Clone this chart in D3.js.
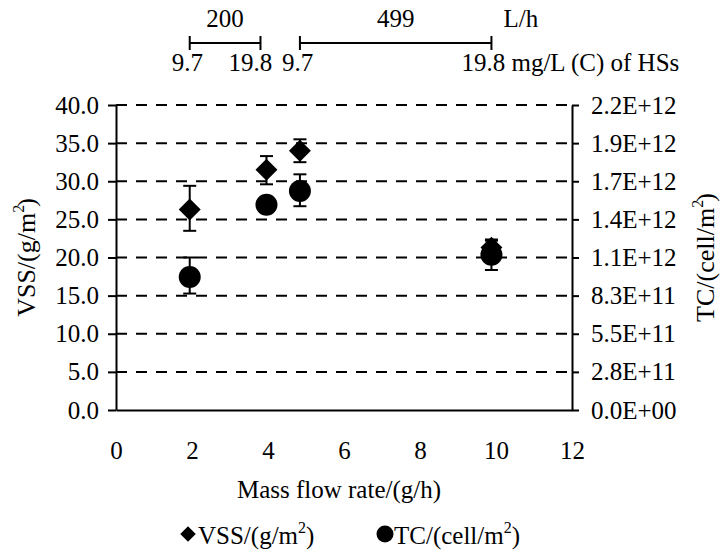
<!DOCTYPE html>
<html>
<head>
<meta charset="utf-8">
<script src="https://cdn.jsdelivr.net/npm/d3@7"></script>
<style>
  body { margin: 0; background: #fff; }
  svg text { font-family: "Liberation Serif", "Times New Roman", serif; fill: #000; }
</style>
</head>
<body>
<div id="chart"></div>
<script>
// Mass flow rate (g/h) of each run
const massFlow = [1.94, 3.96, 4.84, 9.88];

// VSS (g/m2) with error range
const vss = [26.3, 31.5, 34.0, 21.3];
const vssLow = [23.5, 29.6, 32.5, 20.5];
const vssHigh = [29.4, 33.3, 35.5, 22.2];

// TC (cell/m2) with error range
const tc = [9.6e11, 1.48e12, 1.58e12, 1.12e12];
const tcLow = [8.4e11, 1.46e12, 1.47e12, 1.01e12];
const tcHigh = [1.10e12, 1.50e12, 1.70e12, 1.23e12];

// axis ticks
const xTicks = [0, 2, 4, 6, 8, 10, 12];
const vssTicks = [0, 5, 10, 15, 20, 25, 30, 35, 40];
const tcTickLabels = ["0.0E+00", "2.8E+11", "5.5E+11", "8.3E+11", "1.1E+12",
                      "1.4E+12", "1.7E+12", "1.9E+12", "2.2E+12"];
const tcMax = 2.2e12;

// top annotation: flow rate groups and HS concentrations
const flowRates = ["200", "499"];
const concLabels = ["9.7", "19.8"];

const width = 720, height = 552;
const fontSize = 25;

const x = d3.scaleLinear().domain([0, 12]).range([116, 572]);
const y = d3.scaleLinear().domain([0, 40]).range([410, 105]);
const y2 = d3.scaleLinear().domain([0, tcMax]).range([410, 105]);

const svg = d3.select("#chart").append("svg")
  .attr("width", width)
  .attr("height", height)
  .style("font-size", fontSize + "px");

// dashed gridlines
svg.append("g")
  .selectAll("line")
  .data(vssTicks.slice(1))
  .join("line")
  .attr("x1", x(0)).attr("x2", x(12))
  .attr("y1", d => y(d)).attr("y2", d => y(d))
  .attr("stroke", "#000")
  .attr("stroke-width", 2)
  .attr("stroke-dasharray", "11,9");

// left axis
const leftAxis = svg.append("g")
  .attr("transform", `translate(${x(0)},0)`)
  .call(d3.axisLeft(y).tickValues(vssTicks).tickFormat(d3.format(".1f"))
    .tickSize(8).tickSizeOuter(0).tickPadding(9));

// right axis
const tcTicks = tcTickLabels.map((_, i) => i * tcMax / (tcTickLabels.length - 1));
const rightAxis = svg.append("g")
  .attr("transform", `translate(${x(12)},0)`)
  .call(d3.axisRight(y2).tickValues(tcTicks).tickFormat((d, i) => tcTickLabels[i])
    .tickSize(7).tickSizeOuter(0).tickPadding(12));

// bottom axis (no tick marks)
const bottomAxis = svg.append("g")
  .attr("transform", `translate(0,${y(0)})`)
  .call(d3.axisBottom(x).tickValues(xTicks).tickFormat(d3.format("d"))
    .tickSize(0).tickSizeOuter(0).tickPadding(31));

[leftAxis, rightAxis, bottomAxis].forEach(g => {
  g.selectAll("path, line").attr("stroke", "#000").attr("stroke-width", 2);
  g.selectAll("text").style("font-size", fontSize + "px").attr("fill", "#000")
    .style("font-family", '"Liberation Serif", "Times New Roman", serif');
  g.attr("font-size", null).attr("font-family", null);
});

// text with a superscript 2
function supText(sel, before, after, shift) {
  sel.append("tspan").text(before);
  sel.append("tspan").text("2").attr("dy", -11).style("font-size", "16px");
  sel.append("tspan").text(after).attr("dy", 11).attr("dx", shift || 0);
}

// axis titles
svg.append("text")
  .attr("text-anchor", "middle")
  .attr("transform", `translate(35,${(y(0) + y(40)) / 2}) rotate(-90)`)
  .style("font-size", "26px")
  .call(supText, "VSS/(g/m", ")", -2);

svg.append("text")
  .attr("text-anchor", "middle")
  .attr("transform", `translate(714,${(y(0) + y(40)) / 2}) rotate(-90)`)
  .style("font-size", "26px")
  .call(supText, "TC/(cell/m", ")", -2);

svg.append("text")
  .attr("x", 339).attr("y", 498)
  .attr("text-anchor", "middle")
  .text("Mass flow rate/(g/h)");

// error bars
const cap = 6.5;
function errorBars(cls, lo, hi, scale) {
  const g = svg.append("g").attr("class", cls)
    .attr("stroke", "#000").attr("stroke-width", 2);
  massFlow.forEach((m, i) => {
    const cx = x(m);
    g.append("line").attr("x1", cx).attr("x2", cx)
      .attr("y1", scale(lo[i])).attr("y2", scale(hi[i]));
    [lo[i], hi[i]].forEach(v => {
      g.append("line").attr("x1", cx - cap).attr("x2", cx + cap)
        .attr("y1", scale(v)).attr("y2", scale(v));
    });
  });
}
errorBars("vss-err", vssLow, vssHigh, y);
errorBars("tc-err", tcLow, tcHigh, y2);

// markers
const diamond = d3.symbol().type(d3.symbolSquare).size(240);
svg.append("g")
  .selectAll("path")
  .data(massFlow.map((m, i) => ({ m, v: vss[i] })))
  .join("path")
  .attr("d", diamond)
  .attr("transform", d => `translate(${x(d.m)},${y(d.v)}) rotate(45)`)
  .attr("fill", "#000");

svg.append("g")
  .selectAll("circle")
  .data(massFlow.map((m, i) => ({ m, v: tc[i] })))
  .join("circle")
  .attr("cx", d => x(d.m))
  .attr("cy", d => y2(d.v))
  .attr("r", 11)
  .attr("fill", "#000");

// top annotation: brackets for each flow rate
const groups = [[massFlow[0], massFlow[1]], [massFlow[2], massFlow[3]]];
const brY = 43, brTick = 7;
const annot = svg.append("g");
groups.forEach((gr, i) => {
  const x1 = x(gr[0]), x2 = x(gr[1]) - (i === 0 ? 6 : 0);
  const b = annot.append("g").attr("stroke", "#000").attr("stroke-width", 2);
  b.append("line").attr("x1", x1).attr("x2", x2).attr("y1", brY).attr("y2", brY);
  b.append("line").attr("x1", x1).attr("x2", x1).attr("y1", brY - brTick).attr("y2", brY + brTick);
  b.append("line").attr("x1", x2).attr("x2", x2).attr("y1", brY - brTick).attr("y2", brY + brTick);
  annot.append("text")
    .attr("x", (x1 + x2) / 2).attr("y", 27)
    .attr("text-anchor", "middle")
    .text(flowRates[i]);
  annot.append("text")
    .attr("x", x1 - 18).attr("y", 71)
    .text(concLabels[0]);
  annot.append("text")
    .attr("x", i === 0 ? x2 - 32 : x2 - 30).attr("y", 71)
    .text(i === groups.length - 1 ? concLabels[1] + " mg/L (C) of HSs" : concLabels[1]);
});
annot.append("text")
  .attr("x", x(groups[1][1]) + 12).attr("y", 27)
  .text("L/h");

// legend
const legend = svg.append("g").attr("transform", "translate(0,534)");
legend.append("path")
  .attr("d", d3.symbol().type(d3.symbolSquare).size(120))
  .attr("transform", "translate(188,0) rotate(45)")
  .attr("fill", "#000");
legend.append("text").attr("x", 198).attr("y", 10)
  .call(supText, "VSS/(g/m", ")");
legend.append("circle").attr("cx", 385).attr("cy", 0).attr("r", 8.5).attr("fill", "#000");
legend.append("text").attr("x", 394).attr("y", 10)
  .call(supText, "TC/(cell/m", ")");
</script>
</body>
</html>
